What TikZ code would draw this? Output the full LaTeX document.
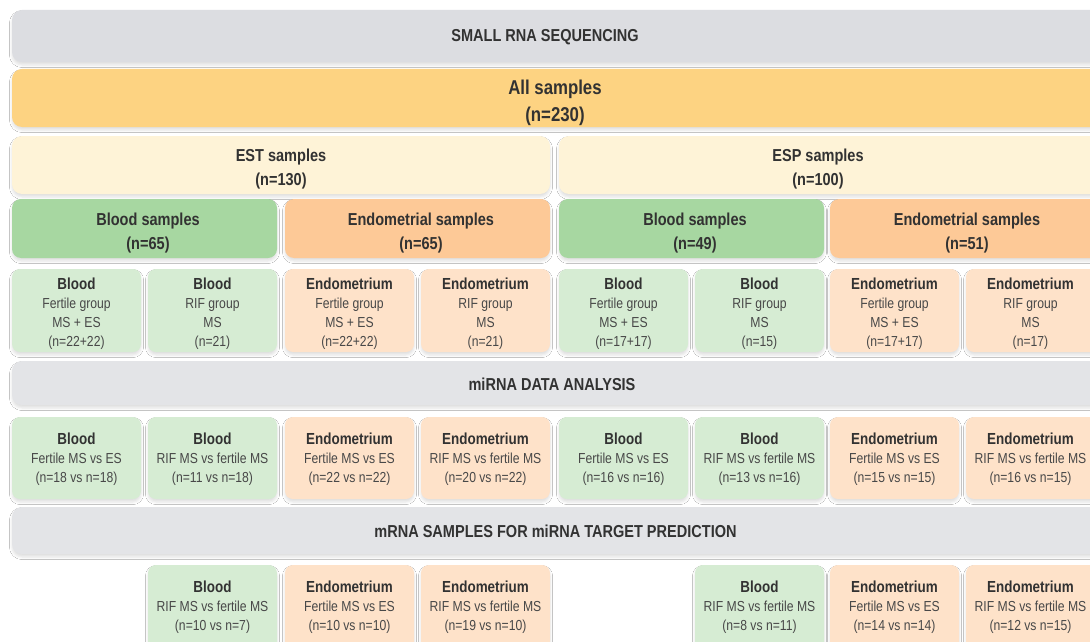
\documentclass[tikz,border=0pt]{standalone}
\usepackage{fontspec}
\setmainfont{Liberation Sans}[FakeStretch=0.84]
\usetikzlibrary{fit,shadows.blur}

\definecolor{barA}{RGB}{220,221,225}
\definecolor{barB}{RGB}{227,228,231}
\definecolor{allfill}{RGB}{253,211,130}
\definecolor{setfill}{RGB}{254,243,215}
\definecolor{bloodhead}{RGB}{167,215,161}
\definecolor{endohead}{RGB}{253,201,151}
\definecolor{bloodcell}{RGB}{214,236,211}
\definecolor{endocell}{RGB}{254,226,201}
\definecolor{inkdark}{RGB}{50,50,50}
\definecolor{ink}{RGB}{72,72,72}

\newcommand\hd[1]{{\fontsize{16}{19}\selectfont\bfseries\color{inkdark}#1}}

\tikzset{
  panel/.style={draw=none, inner sep=0pt, rounded corners=8pt,
    blur shadow={shadow xshift=0pt, shadow yshift=-3pt,
      shadow blur radius=2.5pt, shadow opacity=12}},
  graybar/.style={panel, fill=barA, rounded corners=10pt},
  graybarB/.style={panel, fill=barB, rounded corners=10pt},
  allbar/.style={panel, fill=allfill, rounded corners=10pt},
  setbox/.style={panel, fill=setfill, rounded corners=10pt},
  bheadbox/.style={panel, fill=bloodhead, rounded corners=9pt},
  eheadbox/.style={panel, fill=endohead, rounded corners=9pt},
  bcellbox/.style={panel, fill=bloodcell},
  ecellbox/.style={panel, fill=endocell},
  bartitle/.style={inner sep=0pt, text=inkdark,
    font=\fontsize{17.3}{22}\selectfont\bfseries},
  headtext/.style={align=center, inner sep=0pt, text=inkdark,
    font=\fontsize{17.3}{24}\selectfont\bfseries},
  alltext/.style={align=center, inner sep=0pt, text=inkdark,
    font=\fontsize{20}{27}\selectfont\bfseries},
  celltext/.style={align=center, inner sep=0pt, text=ink,
    font=\fontsize{14.5}{19}\selectfont},
}

\begin{document}
\begin{tikzpicture}[x=1pt,y=-1pt]
\useasboundingbox (0,0) rectangle (1090,642);
\clip (0,0) rectangle (1090,642);
\fill[white] (0,0) rectangle (1090,642);

% ---- top bars ----
\node[graybar, fit={(12,10) (1110,62)}] (seq) {};
\node[bartitle] (seqt) at (545,37) {SMALL RNA SEQUENCING};

\node[allbar, fit={(12,69) (1110,127)}] (all) {};
\node[alltext] (allt) at (555,103) {All samples\\(n=230)};

\node[setbox, fit={(12,136) (550,194)}] (est) {};
\node[headtext] (estt) at (281,169) {EST samples\\(n=130)};
\node[setbox, fit={(559,136) (1110,194)}] (esp) {};
\node[headtext] (espt) at (818,169) {ESP samples\\(n=100)};

% ---- tissue headers ----
\node[bheadbox, fit={(12,199) (277,258)}] (hb1) {};
\node[headtext] (hb1t) at (148,233) {Blood samples\\(n=65)};
\node[eheadbox, fit={(285,199) (550,258)}] (he1) {};
\node[headtext] (he1t) at (421,233) {Endometrial samples\\(n=65)};
\node[bheadbox, fit={(559,199) (824,258)}] (hb2) {};
\node[headtext] (hb2t) at (695,233) {Blood samples\\(n=49)};
\node[eheadbox, fit={(830,199) (1100,258)}] (he2) {};
\node[headtext] (he2t) at (967,233) {Endometrial samples\\(n=51)};

% ---- sample groups ----
\node[bcellbox, fit={(12,269) (141,352)}] (g1) {};
\node[celltext] (g1t) at (76.5,314) {\hd{Blood}\\Fertile group\\MS + ES\\(n=22+22)};
\node[bcellbox, fit={(148,269) (277,352)}] (g2) {};
\node[celltext] (g2t) at (212.5,314) {\hd{Blood}\\RIF group\\MS\\(n=21)};
\node[ecellbox, fit={(285,269) (414,352)}] (g3) {};
\node[celltext] (g3t) at (349.5,314) {\hd{Endometrium}\\Fertile group\\MS + ES\\(n=22+22)};
\node[ecellbox, fit={(421,269) (550,352)}] (g4) {};
\node[celltext] (g4t) at (485.5,314) {\hd{Endometrium}\\RIF group\\MS\\(n=21)};
\node[bcellbox, fit={(559,269) (688,352)}] (g5) {};
\node[celltext] (g5t) at (623.5,314) {\hd{Blood}\\Fertile group\\MS + ES\\(n=17+17)};
\node[bcellbox, fit={(695,269) (824,352)}] (g6) {};
\node[celltext] (g6t) at (759.5,314) {\hd{Blood}\\RIF group\\MS\\(n=15)};
\node[ecellbox, fit={(830,269) (959,352)}] (g7) {};
\node[celltext] (g7t) at (894.5,314) {\hd{Endometrium}\\Fertile group\\MS + ES\\(n=17+17)};
\node[ecellbox, fit={(966,269) (1100,352)}] (g8) {};
\node[celltext] (g8t) at (1030.5,314) {\hd{Endometrium}\\RIF group\\MS\\(n=17)};

% ---- miRNA data analysis ----
\node[graybarB, fit={(12,361) (1110,405)}] (mir) {};
\node[bartitle] (mirt) at (552,384) {miRNA DATA ANALYSIS};

\node[bcellbox, fit={(12,417) (141,499)}] (a1) {};
\node[celltext] (a1t) at (76.5,459) {\hd{Blood}\\Fertile MS vs ES\\(n=18 vs n=18)};
\node[bcellbox, fit={(148,417) (277,499)}] (a2) {};
\node[celltext] (a2t) at (212.5,459) {\hd{Blood}\\RIF MS vs fertile MS\\(n=11 vs n=18)};
\node[ecellbox, fit={(285,417) (414,499)}] (a3) {};
\node[celltext] (a3t) at (349.5,459) {\hd{Endometrium}\\Fertile MS vs ES\\(n=22 vs n=22)};
\node[ecellbox, fit={(421,417) (550,499)}] (a4) {};
\node[celltext] (a4t) at (485.5,459) {\hd{Endometrium}\\RIF MS vs fertile MS\\(n=20 vs n=22)};
\node[bcellbox, fit={(559,417) (688,499)}] (a5) {};
\node[celltext] (a5t) at (623.5,459) {\hd{Blood}\\Fertile MS vs ES\\(n=16 vs n=16)};
\node[bcellbox, fit={(695,417) (824,499)}] (a6) {};
\node[celltext] (a6t) at (759.5,459) {\hd{Blood}\\RIF MS vs fertile MS\\(n=13 vs n=16)};
\node[ecellbox, fit={(830,417) (959,499)}] (a7) {};
\node[celltext] (a7t) at (894.5,459) {\hd{Endometrium}\\Fertile MS vs ES\\(n=15 vs n=15)};
\node[ecellbox, fit={(966,417) (1100,499)}] (a8) {};
\node[celltext] (a8t) at (1030.5,459) {\hd{Endometrium}\\RIF MS vs fertile MS\\(n=16 vs n=15)};

% ---- mRNA samples ----
\node[graybarB, fit={(12,507) (1110,554)}] (mrna) {};
\node[bartitle] (mrnat) at (555.5,531) {mRNA SAMPLES FOR miRNA TARGET PREDICTION};

\node[bcellbox, fit={(148,565) (277,652)}] (m2) {};
\node[celltext] (m2t) at (212.5,607) {\hd{Blood}\\RIF MS vs fertile MS\\(n=10 vs n=7)};
\node[ecellbox, fit={(285,565) (414,652)}] (m3) {};
\node[celltext] (m3t) at (349.5,607) {\hd{Endometrium}\\Fertile MS vs ES\\(n=10 vs n=10)};
\node[ecellbox, fit={(421,565) (550,652)}] (m4) {};
\node[celltext] (m4t) at (485.5,607) {\hd{Endometrium}\\RIF MS vs fertile MS\\(n=19 vs n=10)};
\node[bcellbox, fit={(695,565) (824,652)}] (m6) {};
\node[celltext] (m6t) at (759.5,607) {\hd{Blood}\\RIF MS vs fertile MS\\(n=8 vs n=11)};
\node[ecellbox, fit={(830,565) (959,652)}] (m7) {};
\node[celltext] (m7t) at (894.5,607) {\hd{Endometrium}\\Fertile MS vs ES\\(n=14 vs n=14)};
\node[ecellbox, fit={(966,565) (1100,652)}] (m8) {};
\node[celltext] (m8t) at (1030.5,607) {\hd{Endometrium}\\RIF MS vs fertile MS\\(n=12 vs n=15)};
\end{tikzpicture}
\end{document}
